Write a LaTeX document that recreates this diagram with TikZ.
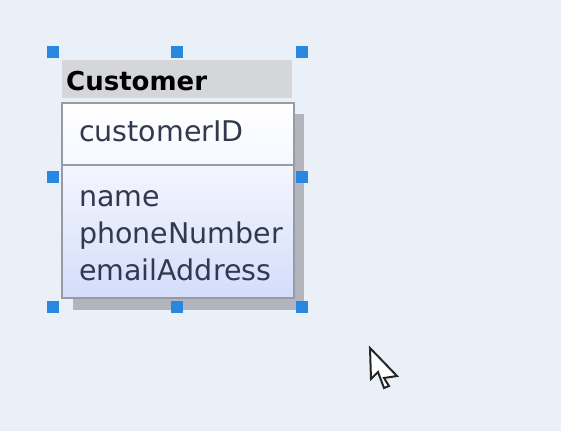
\documentclass[tikz,border=0pt]{standalone}
\usepackage{fontspec}
\setmainfont{DejaVu Sans}
\usetikzlibrary{shadings}
\definecolor{bg}{RGB}{233,240,248}
\definecolor{hdr}{RGB}{212,214,218}
\definecolor{shadowc}{RGB}{178,181,188}
\definecolor{frame}{RGB}{150,155,165}
\definecolor{txt}{RGB}{50,56,78}
\definecolor{handle}{RGB}{40,135,225}
\definecolor{lowtop}{RGB}{244,246,254}
\definecolor{lowbot}{RGB}{212,221,250}
\begin{document}
\begin{tikzpicture}[x=1pt,y=-1pt,
  attr/.style={anchor=base west,inner sep=0pt,text=txt,font=\fontsize{28.5}{30}\selectfont},
  handlebox/.style={fill=handle,draw=none,minimum size=12pt,inner sep=0pt}]
\useasboundingbox (0,0) rectangle (561,431);
\fill[bg] (0,0) rectangle (561,431);
% shadow
\fill[shadowc] (73,114) rectangle (304,310);
% header
\fill[hdr] (62,60) rectangle (292,98);
\node[anchor=base west,inner sep=0pt,font=\bfseries\fontsize{26}{30}\selectfont] (title) at (66,90) {Customer};
% compartments
\shade[top color=white,bottom color=lowtop!80!white] (62,103) rectangle (294,165);
\shade[top color=lowtop,bottom color=lowbot] (62,165) rectangle (294,298);
\draw[frame,line width=1.5pt] (62,103) rectangle (294,298);
\draw[frame,line width=1.5pt] (62,165) -- (294,165);
\node[attr] (pk) at (79,141) {customerID};
\node[attr] (a1) at (79,206) {name};
\node[attr] (a2) at (79,243) {phoneNumber};
\node[attr] (a3) at (79,280) {emailAddress};
% handles
\node[handlebox] (h1) at (53,52) {};
\node[handlebox] (h2) at (177,52) {};
\node[handlebox] (h3) at (302,52) {};
\node[handlebox] (h4) at (53,177) {};
\node[handlebox] (h5) at (302,177) {};
\node[handlebox] (h6) at (53,307) {};
\node[handlebox] (h7) at (177,307) {};
\node[handlebox] (h8) at (302,307) {};
% cursor
\filldraw[fill=white,draw=black!85,line width=2pt,line join=miter,shift={(370,348)}]
  (0,0) -- (1,31) -- (8,24) -- (14,40) -- (19,38) -- (14,30) -- (27,28) -- cycle;
\end{tikzpicture}
\end{document}
